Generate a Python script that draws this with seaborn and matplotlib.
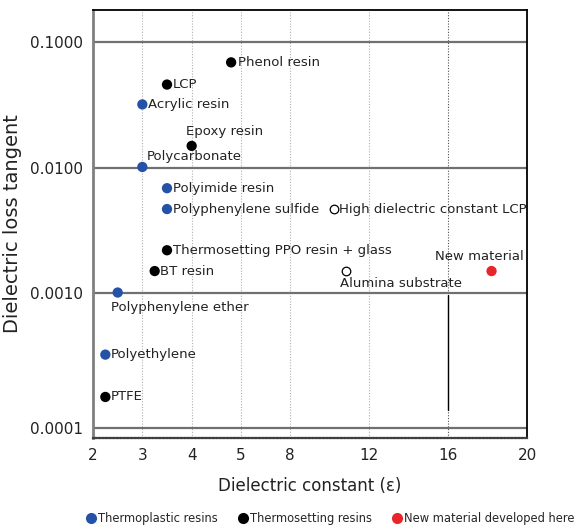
import matplotlib
matplotlib.use("Agg")
import matplotlib.pyplot as plt
from matplotlib.lines import Line2D
import numpy as np
import pandas as pd
import seaborn as sns

# data
materials = ["Phenol resin", "LCP", "Acrylic resin", "Epoxy resin", "Polycarbonate",
             "Polyimide resin", "Polyphenylene sulfide", "High dielectric constant LCP",
             "Thermosetting PPO resin + glass", "BT resin", "Alumina substrate",
             "New material", "Polyphenylene ether", "Polyethylene", "PTFE"]
eps = [4.8, 3.5, 3.0, 4.0, 3.0, 3.5, 3.5, 10.2, 3.5, 3.25, 10.8, 18.2, 2.5, 2.25, 2.25]
tan_d = [0.069, 0.046, 0.032, 0.015, 0.0102, 0.0069, 0.0047, 0.0047,
         0.0022, 0.0015, 0.0015, 0.0015, 0.00101, 0.00035, 0.00017]
group = ["Thermosetting resins", "Thermosetting resins", "Thermoplastic resins",
         "Thermosetting resins", "Thermoplastic resins", "Thermoplastic resins",
         "Thermoplastic resins", "Other", "Thermosetting resins", "Thermosetting resins",
         "Other", "New material developed here", "Thermoplastic resins",
         "Thermoplastic resins", "Thermosetting resins"]

x_ticks = [2, 3, 4, 5, 8, 12, 16, 20]
y_ticks = [0.0001, 0.001, 0.01, 0.1]
y_ticklabels = ["0.0001", "0.0010", "0.0100", "0.1000"]

df = pd.DataFrame({"material": materials, "eps": eps, "tan": tan_d, "group": group})

colors = {"Thermoplastic resins": "#2452a6", "Thermosetting resins": "black",
          "New material developed here": "#e8262a"}

# the x axis is piecewise: equal steps 2..5, then 8, 12, 16, 20
xv = np.array([2, 3, 4, 5, 8, 12, 16, 20], dtype=float)
xp = np.array([0, 1, 2, 3, 4, 5.6, 7.2, 8.8])
# y decades are not perfectly equal in the original
lv = np.array([-5, -4, -3, -2, -1, 0], dtype=float)
lp = np.array([-135, 0, 135, 260, 386, 512], dtype=float)


def fx(x):
    return np.interp(x, xv, xp)


def ifx(p):
    return np.interp(p, xp, xv)


def fy(y):
    return np.interp(np.log10(np.clip(y, 1e-6, None)), lv, lp)


def ify(p):
    return 10 ** np.interp(p, lp, lv)


sns.set_style("white")
plt.rcParams["font.family"] = ["DejaVu Sans"]

fig = plt.figure(figsize=(5.76, 5.29), dpi=100)
ax = fig.add_axes([0.1615, 0.172, 0.7535, 0.809])
ax.set_xscale("function", functions=(fx, ifx))
ax.set_yscale("function", functions=(fy, ify))
ax.set_xlim(2, 20)
ax.set_ylim(8.44e-5, 0.1795)

# grid
for xt in [3, 4, 5, 8, 12]:
    ax.axvline(xt, color="#b0b0b0", lw=0.8, ls=(0, (1, 1.5)), zorder=0)
ax.axvline(16, color="#505050", lw=0.8, ls=(0, (1, 1.5)), zorder=0)
for yt in y_ticks:
    ax.axhline(yt, color="#707070", lw=1.6, zorder=0)
ax.axvline(16, ymin=0.065, ymax=0.334, color="black", lw=1, zorder=1)

main = df[df.group != "Other"]
sns.scatterplot(data=main, x="eps", y="tan", hue="group", palette=colors,
                s=55, edgecolor="none", legend=False, ax=ax, zorder=3)
other = df[df.group == "Other"]
sns.scatterplot(data=other, x="eps", y="tan", color="white", edgecolor="black",
                linewidth=0.9, s=38, legend=False, ax=ax, zorder=3)

# label offsets (points) and alignment
offsets = {
    "Phenol resin": (5, 0, "left", "center"),
    "LCP": (4, 0, "left", "center"),
    "Acrylic resin": (4, 0, "left", "center"),
    "Epoxy resin": (-4, 6, "left", "bottom"),
    "Polycarbonate": (3, 3, "left", "bottom"),
    "Polyimide resin": (4, 0, "left", "center"),
    "Polyphenylene sulfide": (4, 0, "left", "center"),
    "High dielectric constant LCP": (4, 0, "left", "center"),
    "Thermosetting PPO resin + glass": (4, 0, "left", "center"),
    "BT resin": (4, 0, "left", "center"),
    "Alumina substrate": (-4, -4, "left", "top"),
    "New material": (23, 6, "right", "bottom"),
    "Polyphenylene ether": (-5, -6, "left", "top"),
    "Polyethylene": (4, 0, "left", "center"),
    "PTFE": (4, 0, "left", "center"),
}
for _, r in df.iterrows():
    dx, dy, ha, va = offsets[r.material]
    ax.annotate(r.material, (r.eps, r.tan), xytext=(dx, dy), textcoords="offset points",
                ha=ha, va=va, fontsize=9.5, color="#222222")

ax.set_xticks(x_ticks)
ax.set_xticklabels([str(t) for t in x_ticks])
ax.set_yticks(y_ticks)
ax.set_yticklabels(y_ticklabels)
ax.minorticks_off()
ax.tick_params(axis="both", length=0, labelsize=11, colors="#222222", pad=7)

ax.set_xlabel("Dielectric constant (ε)", fontsize=12, color="#222222", labelpad=10)
ax.set_ylabel("Dielectric loss tangent", fontsize=14, color="#222222", labelpad=6)

for side in ["top", "right"]:
    ax.spines[side].set_color("black")
    ax.spines[side].set_linewidth(1.3)
ax.spines["left"].set_color("#808080")
ax.spines["left"].set_linewidth(2)
ax.spines["left"].set_linestyle((0, (2, 1)))
ax.spines["bottom"].set_color("#404040")
ax.spines["bottom"].set_linewidth(1.6)
ax.spines["bottom"].set_linestyle((0, (1, 0.6)))

handles = [Line2D([], [], marker="o", ls="none", markersize=8, markerfacecolor=c,
                  markeredgecolor="none", label=k) for k, c in colors.items()]
fig.legend(handles=handles, loc="lower center", bbox_to_anchor=(0.572, -0.012), ncol=3,
           frameon=False, fontsize=8.3, handletextpad=0.0, columnspacing=1.6,
           handlelength=1.2)

fig.savefig("out.png", dpi=100)
